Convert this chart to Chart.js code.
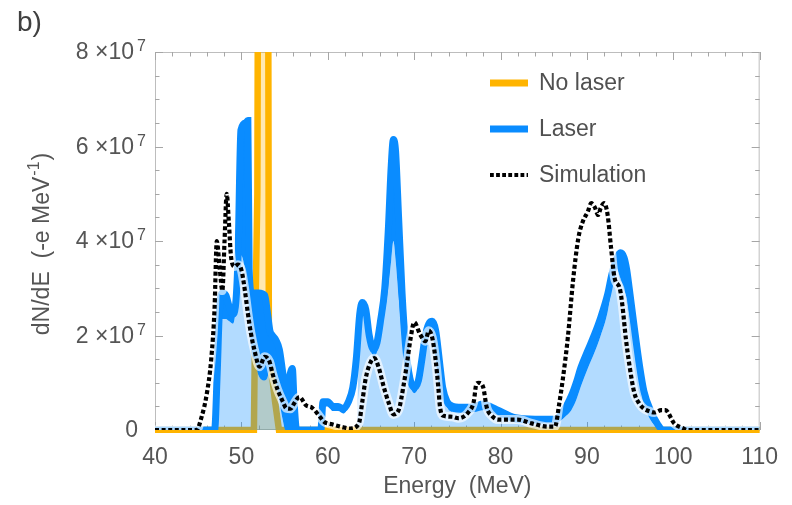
<!DOCTYPE html>
<html>
<head>
<meta charset="utf-8">
<script src="https://cdn.jsdelivr.net/npm/chart.js@4.4.1/dist/chart.umd.min.js"></script>
<style>
  html, body { margin: 0; padding: 0; background: #fff; }
  #wrap { width: 792px; height: 505px; }
</style>
</head>
<body>
<div id="wrap"><canvas id="spectrum" width="792" height="505"></canvas></div>
<script>
(function () {
  'use strict';

  // values in units of 1e7 electrons / MeV
  var UNIT = 1e7;
  var X_TICKS = [40, 50, 60, 70, 80, 90, 100, 110];
  var Y_TICKS = [0, 2, 4, 6, 8];

  var LASER_E = [40, 46.0, 46.9, 47.2, 47.45, 47.8, 48.2, 48.6, 49.0, 49.3,
    49.6, 49.95, 50.5, 50.75, 50.9, 51.2, 51.5, 52.0, 52.7, 53.0,
    53.3, 53.6, 54.0, 54.4, 54.8, 55.1, 55.4, 55.9, 56.1, 56.4,
    59.2, 59.45, 60.0, 60.6, 61.2, 61.8, 62.4, 62.9, 63.3, 63.7,
    64.0, 64.4, 64.8, 65.3, 65.7, 66.1, 66.6, 67.0, 67.35, 67.6,
    67.85, 68.2, 68.6, 69.0, 69.5, 70.0, 70.5, 70.9, 71.3, 71.7,
    72.1, 72.5, 72.9, 73.3, 73.8, 74.5, 76.0, 77.0, 78.0, 78.8,
    79.7, 81.7, 84.0, 86.3, 87.0, 87.6, 88.2, 88.8, 89.3, 90.1,
    90.9, 91.6, 92.4, 92.9, 93.3, 93.9, 94.3, 94.6, 94.9, 95.5,
    96.1, 96.6, 97.4, 98.2, 98.8, 110];
  // top of the dark blue band
  var LASER_HI = [0, 0, 0, 1.2, 2.5, 2.9, 2.85, 2.6, 2.45, 2.6,
    3.6, 6.35, 6.5, 6.55, 3.4, 2.9, 2.9, 2.9, 2.85, 2.5,
    2.1, 2.0, 1.9, 1.7, 1.2, 0.85, 1.0, 1.3, 0.6, 0,
    0, 0.6, 0.6, 0.5, 0.5, 0.45, 0.6, 0.9, 1.5, 2.45,
    2.7, 2.55, 2.0, 1.7, 1.85, 2.3, 3.0, 4.2, 5.6, 6.15,
    5.9, 4.5, 2.9, 1.8, 1.1, 0.9, 1.05, 1.5, 2.0, 2.25,
    2.3, 2.1, 1.5, 0.9, 0.6, 0.5, 0.48, 0.5, 0.55, 0.5,
    0.42, 0.26, 0.23, 0.23, 0.33, 0.5, 0.72, 1.02, 1.32, 1.68,
    2.03, 2.38, 2.87, 3.3, 3.55, 3.75, 3.65, 3.4, 3.0, 2.15,
    1.35, 0.82, 0.4, 0.12, 0, 0];
  // bottom of the dark blue band
  var LASER_LO = [0, 0, 0, 0.9, 2.1, 2.35, 2.35, 2.3, 2.25, 2.5,
    3.5, 3.7, 3.3, 2.9, 2.4, 1.6, 1.5, 1.15, 1.05, 1.1,
    1.3, 1.35, 1.0, 0.6, 0.2, 0, 0, 0, 0, 0,
    0, 0.5, 0.5, 0.4, 0.4, 0.35, 0.5, 0.8, 1.35, 2.25,
    2.5, 2.35, 1.85, 1.55, 1.65, 2.05, 2.5, 3.0, 3.6, 4.0,
    3.6, 2.8, 2.0, 1.45, 0.95, 0.78, 0.92, 1.35, 1.85, 2.1,
    2.15, 1.95, 1.35, 0.78, 0.48, 0.38, 0.36, 0.38, 0.42, 0.38,
    0.3, 0.16, 0.14, 0.14, 0.2, 0.3, 0.42, 0.65, 0.92, 1.3,
    1.65, 2.0, 2.5, 3.05, 3.45, 3.2, 2.95, 2.8, 2.45, 1.8,
    1.0, 0.55, 0.2, 0.05, 0, 0];
  // top of the light blue filling
  var LASER_FILL = [0, 0, 0, 0.9, 2.1, 2.35, 2.35, 2.3, 2.25, 2.5,
    3.5, 3.7, 3.3, 2.9, 2.4, 1.6, 1.5, 1.15, 1.05, 1.1,
    1.3, 1.35, 1.0, 0.6, 0.2, 0, 0, 0, 0, 0,
    0, 0, 0, 0, 0, 0, 0, 0, 0, 2.25,
    2.5, 2.35, 1.85, 1.55, 1.65, 2.05, 2.5, 3.0, 3.6, 4.0,
    3.6, 2.8, 2.0, 1.45, 0.95, 0.78, 0.92, 1.35, 1.85, 2.1,
    2.15, 1.95, 1.35, 0.78, 0.48, 0.38, 0.36, 0.38, 0.42, 0.38,
    0.3, 0.16, 0.14, 0.14, 0.2, 0.3, 0.42, 0.65, 0.92, 1.3,
    1.65, 2.0, 2.5, 3.05, 3.45, 3.2, 2.95, 2.8, 2.45, 1.8,
    1.0, 0.55, 0.2, 0.05, 0, 0];

  var NOLASER_E = [40, 51.45, 51.55, 51.85, 51.95, 53.08, 53.18, 53.45, 53.9, 54.35, 110];
  var NOLASER_VAL = [0, 0, 1.6, 5, 12, 12, 2.2, 1.3, 0.6, 0, 0];

  var SIM_E = [40, 44.8, 45.4, 46.0, 46.5, 46.9, 47.15, 47.5, 47.8, 48.05,
    48.3, 48.55, 48.8, 49.2, 49.6, 50.0, 50.4, 50.75, 51.1, 51.5,
    52.1, 52.7, 53.25, 53.6, 54.2, 54.8, 55.2, 55.7, 56.1, 56.7,
    57.5, 58.2, 59.0, 59.6, 60.5, 61.7, 62.6, 63.6, 64.0, 64.4,
    65.0, 65.4, 65.9, 66.5, 67.1, 67.6, 68.2, 68.8, 69.2, 69.6,
    70.0, 70.7, 71.3, 71.7, 72.1, 72.5, 72.8, 73.0, 73.4, 74.4,
    75.1, 76.3, 76.9, 77.2, 77.5, 78.0, 78.4, 79.0, 79.7, 82.0,
    83.6, 85.5, 86.3, 86.8, 87.2, 87.8, 88.4, 89.0, 89.5, 90.1,
    90.5, 90.9, 91.3, 91.6, 92.0, 92.4, 92.8, 93.2, 93.8, 94.1,
    94.5, 94.9, 95.5, 96.1, 96.6, 97.2, 97.8, 98.6, 99.1, 100.1,
    101.2, 101.6, 110];
  var SIM_VAL = [0, 0, 0.28, 0.77, 1.48, 2.6, 4.0, 3.4, 2.95, 4.0,
    5.0, 4.4, 3.67, 3.46, 3.5, 3.39, 2.96, 2.47, 2.05, 1.7,
    1.34, 1.55, 1.45, 1.2, 0.85, 0.6, 0.46, 0.45, 0.56, 0.7,
    0.52, 0.47, 0.3, 0.17, 0.12, 0.06, 0.03, 0.14, 0.6, 1.1,
    1.45, 1.52, 1.32, 0.9, 0.55, 0.33, 0.42, 0.97, 1.45, 1.95,
    2.28, 2.02, 1.88, 2.1, 1.95, 1.46, 0.9, 0.48, 0.3, 0.28,
    0.25, 0.38, 0.6, 0.97, 1.0, 0.9, 0.48, 0.3, 0.22, 0.22,
    0.14, 0.07, 0.07, 0.56, 1.06, 1.97, 3.17, 4.05, 4.4, 4.62,
    4.8, 4.72, 4.55, 4.7, 4.8, 4.55, 3.85, 3.22, 3.0, 2.65,
    1.95, 1.4, 0.78, 0.55, 0.45, 0.4, 0.37, 0.42, 0.42, 0.14,
    0.03, 0, 0];

  var ORANGE = '#ffb400';
  var BLUE = '#0a8cff';
  var TEXT = '#555555';
  var FONT = "'Liberation Sans', Arial, sans-serif";

  function pts(xs, ys) {
    return xs.map(function (x, i) { return { x: x, y: ys[i] * UNIT }; });
  }

  // box with inward ticks on all four sides
  var frameTicks = {
    id: 'frameTicks',
    beforeDatasetsDraw: function (chart) {
      var ctx = chart.ctx, a = chart.chartArea;
      var xs = chart.scales.x, ys = chart.scales.y;
      ctx.save();
      ctx.lineWidth = 1;
      ctx.strokeStyle = '#bdbdbd';
      ctx.strokeRect(a.left + 0.5, a.top + 0.5, a.right - a.left - 1, a.bottom - a.top - 1);
      ctx.strokeStyle = '#a6a6a6';
      ctx.beginPath();
      for (var e = 40; e <= 110; e += 2) {
        var px = Math.round(xs.getPixelForValue(e)) + 0.5;
        var len = e % 10 === 0 ? 8 : 4.5;
        ctx.moveTo(px, a.bottom); ctx.lineTo(px, a.bottom - len);
        ctx.moveTo(px, a.top); ctx.lineTo(px, a.top + len);
      }
      for (var k = 0; k <= 16; k++) {
        var py = Math.round(ys.getPixelForValue(k * 0.5 * UNIT)) + 0.5;
        var l2 = k % 4 === 0 ? 8 : 4.5;
        ctx.moveTo(a.left, py); ctx.lineTo(a.left + l2, py);
        ctx.moveTo(a.right, py); ctx.lineTo(a.right - l2, py);
      }
      ctx.stroke();
      ctx.restore();
    }
  };

  // y tick labels and y title need real superscripts
  var yLabels = {
    id: 'yLabels',
    afterDraw: function (chart) {
      var ctx = chart.ctx, ys = chart.scales.y;
      ctx.save();
      ctx.fillStyle = TEXT;
      Y_TICKS.forEach(function (n) {
        var py = ys.getPixelForValue(n * UNIT);
        ctx.font = '23px ' + FONT;
        ctx.textBaseline = 'middle';
        ctx.textAlign = 'right';
        if (n === 0) {
          ctx.fillText('0', 138, py + 1);
          return;
        }
        ctx.fillText(n + ' \u00d710', 134, py + 1);
        ctx.font = '16px ' + FONT;
        ctx.textAlign = 'left';
        ctx.textBaseline = 'alphabetic';
        ctx.fillText('7', 137, py - 1);
      });

      var base = 'dN/dE  (-e MeV', sup = '-1', tail = ')';
      ctx.font = '23px ' + FONT;
      var wBase = ctx.measureText(base).width;
      var wTail = ctx.measureText(tail).width;
      ctx.font = '16px ' + FONT;
      var wSup = ctx.measureText(sup).width + 2;
      var total = wBase + wSup + wTail;
      var cy = (chart.chartArea.top + chart.chartArea.bottom) / 2 + 3;
      ctx.translate(49, cy);
      ctx.rotate(-Math.PI / 2);
      ctx.textAlign = 'left';
      ctx.textBaseline = 'alphabetic';
      var x0 = -total / 2;
      ctx.font = '23px ' + FONT;
      ctx.fillText(base, x0, 0);
      ctx.font = '16px ' + FONT;
      ctx.fillText(sup, x0 + wBase + 1, -10);
      ctx.font = '23px ' + FONT;
      ctx.fillText(tail, x0 + wBase + wSup, 0);
      ctx.restore();
    }
  };

  var legendBox = {
    id: 'legendBox',
    afterDraw: function (chart) {
      var ctx = chart.ctx;
      var items = [
        { label: 'No laser', color: ORANGE, y: 83, dotted: false },
        { label: 'Laser', color: BLUE, y: 129, dotted: false },
        { label: 'Simulation', color: '#000', y: 175, dotted: true }
      ];
      ctx.save();
      items.forEach(function (it) {
        ctx.beginPath();
        ctx.strokeStyle = it.color;
        if (it.dotted) {
          ctx.lineWidth = 4;
          ctx.setLineDash([3.8, 2.3]);
        } else {
          ctx.lineWidth = 7;
          ctx.setLineDash([]);
        }
        ctx.moveTo(490, it.y);
        ctx.lineTo(528, it.y);
        ctx.stroke();
        ctx.setLineDash([]);
        ctx.fillStyle = '#505050';
        ctx.font = '23px ' + FONT;
        ctx.textBaseline = 'middle';
        ctx.textAlign = 'left';
        ctx.fillText(it.label, 539, it.y + 1);
      });
      ctx.font = '28px ' + FONT;
      ctx.textBaseline = 'alphabetic';
      ctx.fillStyle = '#404040';
      ctx.fillText('b)', 17, 31);
      ctx.restore();
    }
  };

  new Chart(document.getElementById('spectrum'), {
    type: 'line',
    data: {
      datasets: [
        {
          label: 'Simulation',
          data: pts(SIM_E, SIM_VAL),
          borderColor: '#000',
          borderWidth: 4.2,
          borderDash: [4, 2.6],
          cubicInterpolationMode: 'monotone',
          pointRadius: 0,
          fill: false
        },
        {
          label: 'Simulation halo',
          data: pts(SIM_E, SIM_VAL),
          borderColor: 'rgba(255, 255, 255, 0.65)',
          borderWidth: 9,
          cubicInterpolationMode: 'monotone',
          pointRadius: 0,
          fill: false
        },
        {
          label: 'Laser',
          data: pts(LASER_E, LASER_HI),
          borderColor: BLUE,
          backgroundColor: BLUE,
          borderWidth: 7,
          cubicInterpolationMode: 'monotone',
          pointRadius: 0,
          fill: '+1'
        },
        {
          label: 'Laser band bottom',
          data: pts(LASER_E, LASER_LO),
          borderWidth: 0,
          borderColor: 'rgba(0,0,0,0)',
          cubicInterpolationMode: 'monotone',
          pointRadius: 0,
          fill: false
        },
        {
          label: 'Laser filling',
          data: pts(LASER_E, LASER_FILL),
          borderWidth: 0,
          borderColor: 'rgba(0,0,0,0)',
          backgroundColor: 'rgba(0, 136, 255, 0.3)',
          cubicInterpolationMode: 'monotone',
          pointRadius: 0,
          fill: 'origin'
        },
        {
          label: 'No laser',
          data: pts(NOLASER_E, NOLASER_VAL),
          borderColor: ORANGE,
          backgroundColor: 'rgba(255, 180, 0, 0.3)',
          borderWidth: 6.5,
          tension: 0,
          pointRadius: 0,
          fill: 'origin',
          clip: { left: 4, right: 4, top: 0, bottom: 3 }
        }
      ]
    },
    options: {
      responsive: false,
      animation: false,
      events: [],
      layout: { padding: { top: 52, right: 30, left: 0, bottom: 0 } },
      plugins: {
        legend: { display: false },
        tooltip: { enabled: false }
      },
      scales: {
        x: {
          type: 'linear',
          min: 40,
          max: 110,
          afterBuildTicks: function (scale) {
            scale.ticks = X_TICKS.map(function (v) { return { value: v }; });
          },
          afterFit: function (scale) { scale.height = 75; },
          grid: { display: false, drawTicks: false },
          border: { display: false },
          ticks: {
            autoSkip: false,
            maxRotation: 0,
            padding: 14,
            color: TEXT,
            font: { family: FONT, size: 23 }
          },
          title: {
            display: true,
            text: 'Energy  (MeV)',
            color: TEXT,
            font: { family: FONT, size: 23 },
            padding: { top: 0, bottom: 5 }
          }
        },
        y: {
          min: 0,
          max: 8 * UNIT,
          afterBuildTicks: function (scale) {
            scale.ticks = Y_TICKS.map(function (v) { return { value: v * UNIT }; });
          },
          afterFit: function (scale) { scale.width = 155; },
          grid: { display: false, drawTicks: false },
          border: { display: false },
          ticks: { display: false },
          title: { display: false }
        }
      }
    },
    plugins: [frameTicks, yLabels, legendBox]
  });
})();
</script>
</body>
</html>
